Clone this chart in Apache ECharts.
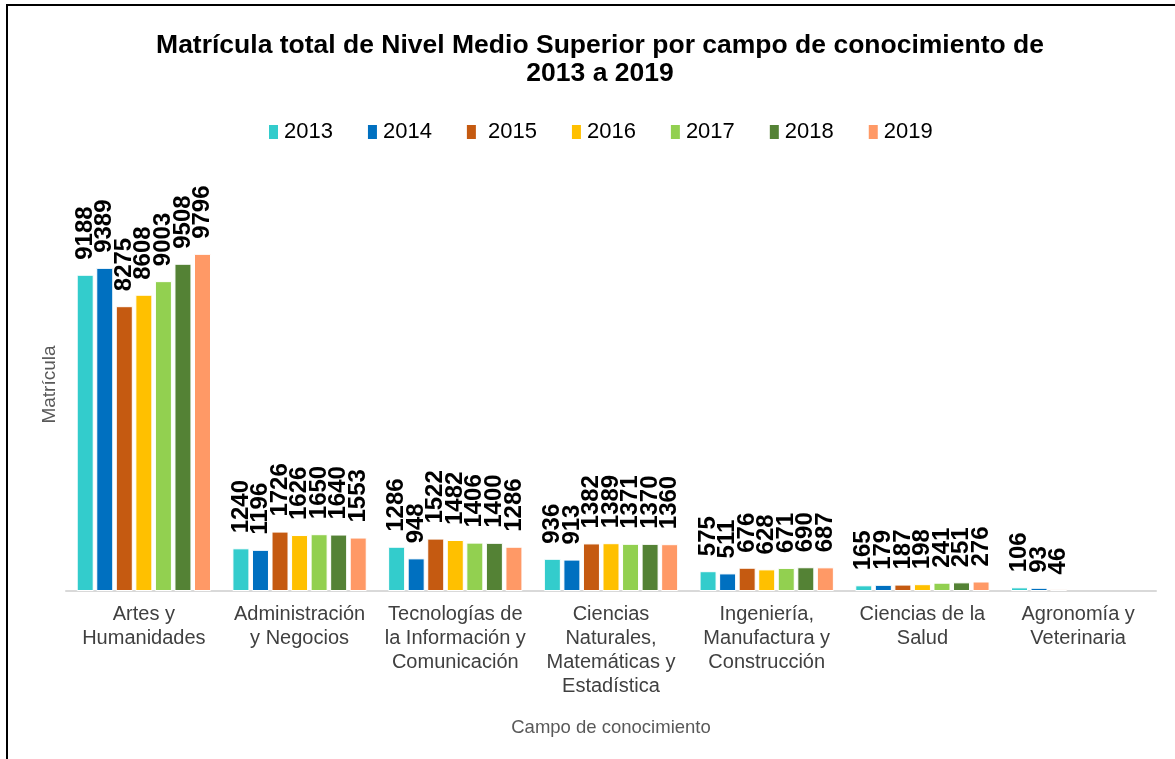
<!DOCTYPE html>
<html>
<head>
<meta charset="utf-8">
<script src="https://cdn.jsdelivr.net/npm/echarts@6/dist/echarts.min.js"></script>
<style>
  html, body { margin: 0; padding: 0; background: #fff; }
  #chart { width: 1175px; height: 759px; }
</style>
</head>
<body>
<div id="chart"></div>
<script>
var campos = [
    'Artes y\nHumanidades',
    'Administración\ny Negocios',
    'Tecnologías de\nla Información y\nComunicación',
    'Ciencias\nNaturales,\nMatemáticas y\nEstadística',
    'Ingeniería,\nManufactura y\nConstrucción',
    'Ciencias de la\nSalud',
    'Agronomía y\nVeterinaria'
];
var anios = ['2013', '2014', '2015', '2016', '2017', '2018', '2019'];
var colores = ['#33CCCC', '#0070C0', '#C55A11', '#FFC000', '#92D050', '#548235', '#FF9966'];

var v2013 = [9188, 1240, 1286, 936, 575, 165, 106];
var v2014 = [9389, 1196, 948, 913, 511, 179, 93];
var v2015 = [8275, 1726, 1522, 1382, 676, 187, 46];
var v2016 = [8608, 1626, 1482, 1389, 628, 198, null];
var v2017 = [9003, 1650, 1406, 1371, 671, 241, null];
var v2018 = [9508, 1640, 1400, 1370, 690, 251, null];
var v2019 = [9796, 1553, 1286, 1360, 687, 276, null];
var valores = [v2013, v2014, v2015, v2016, v2017, v2018, v2019];

var chart = echarts.init(document.getElementById('chart'));

var series = anios.map(function (anio, i) {
    return {
        name: anio,
        type: 'bar',
        data: valores[i],
        barWidth: 17,
        barGap: '15%',
        itemStyle: {
            color: colores[i],
            borderColor: '#fff',
            borderWidth: 1
        },
        label: {
            show: true,
            position: 'top',
            rotate: 90,
            align: 'left',
            verticalAlign: 'middle',
            distance: 15,
            color: '#000',
            fontFamily: 'Liberation Sans',
            fontWeight: 'bold',
            fontSize: 24
        }
    };
});

var option = {
    backgroundColor: '#fff',
    textStyle: { fontFamily: 'Liberation Sans' },
    title: {
        text: 'Matrícula total de Nivel Medio Superior por campo de conocimiento de\n2013 a 2019',
        left: 595,
        textAlign: 'center',
        top: 27,
        textStyle: {
            fontFamily: 'Liberation Sans',
            fontWeight: 'bold',
            fontSize: 26.5,
            lineHeight: 28,
            color: '#000'
        }
    },
    legend: {
        data: anios,
        top: 116,
        left: 262,
        itemWidth: 11,
        itemHeight: 16,
        itemGap: 33,
        icon: 'rect',
        formatter: function (name) {
            return name === '2015' ? ' 2015' : name;
        },
        textStyle: {
            fontFamily: 'Liberation Sans',
            fontSize: 22,
            color: '#000'
        }
    },
    grid: {
        left: 66,
        right: 19,
        top: 178,
        bottom: 168
    },
    xAxis: {
        type: 'category',
        data: campos,
        name: 'Campo de conocimiento',
        nameLocation: 'middle',
        nameGap: 127,
        nameTextStyle: { fontSize: 18.5, color: '#595959', fontFamily: 'Liberation Sans' },
        axisLine: { lineStyle: { color: '#d9d9d9', width: 2 } },
        axisTick: { show: false },
        axisLabel: {
            interval: 0,
            margin: 11,
            fontSize: 20,
            lineHeight: 24,
            color: '#404040',
            fontFamily: 'Liberation Sans'
        }
    },
    yAxis: {
        type: 'value',
        min: 0,
        max: 12000,
        name: 'Matrícula',
        nameLocation: 'middle',
        nameGap: 7,
        nameTextStyle: { fontSize: 19, color: '#595959', fontFamily: 'Liberation Sans' },
        axisLine: { show: false },
        axisTick: { show: false },
        axisLabel: { show: false },
        splitLine: { show: false }
    },
    graphic: [{
        type: 'rect',
        shape: { x: 7, y: 5, width: 1300, height: 900 },
        style: { fill: 'none', stroke: '#000', lineWidth: 2 },
        silent: true
    }],
    series: series
};

chart.setOption(option);
</script>
</body>
</html>
